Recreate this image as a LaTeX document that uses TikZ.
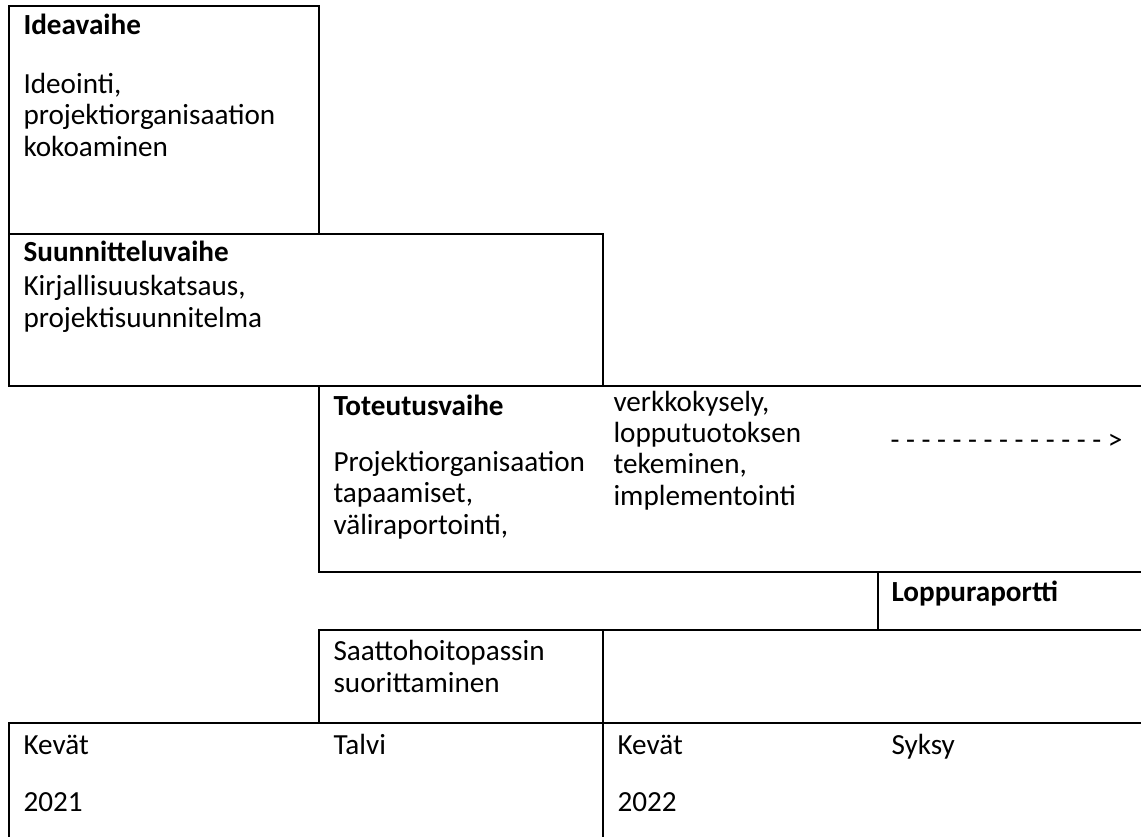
\documentclass[tikz,border=0pt]{standalone}
\usepackage{fontspec}
\setmainfont{Carlito}
\newcommand\tightlines{\lineskiplimit=-100pt\relax}
\tikzset{
  txt/.style={anchor=base west, align=left, inner sep=0pt,
    font=\fontsize{11}{11.7}\selectfont\tightlines},
  hd/.style={txt, font=\fontsize{11}{11.7}\selectfont\tightlines\bfseries},
  rule/.style={line width=0.9pt}
}
\begin{document}
\begin{tikzpicture}[x=0.377pt, y=-0.377pt]
\useasboundingbox (0,0) rectangle (1141,837);
\draw[rule] (9,6) rectangle (319,234);
\draw[rule] (9,234) rectangle (603,386);
\draw[rule] (1141,386) -- (319,386) -- (319,572) -- (1141,572);
\draw[rule] (878,572) -- (878,630);
\draw[rule] (1141,630) -- (319,630) -- (319,723);
\draw[rule] (9,837) -- (9,723) -- (1141,723);
\draw[rule] (603,630) -- (603,837);

% multi-line cells sit on the baseline of their last line
\node[hd] (ideaHead) at (23,34) {Ideavaihe};
\node[txt] (ideaBody) at (23,156) {Ideointi,\\projektiorganisaation\\kokoaminen};
\node[hd] (suunHead) at (23,261) {Suunnitteluvaihe};
\node[txt] (suunBody) at (23,327) {Kirjallisuuskatsaus,\\projektisuunnitelma};
\node[hd] (toteHead) at (333,415) {Toteutusvaihe};
\node[txt] (toteBody) at (333,534) {Projektiorganisaation\\tapaamiset,\\väliraportointi,};
\node[txt] (toteMore) at (613,505) {verkkokysely,\\lopputuotoksen\\tekeminen,\\implementointi};
\node[txt] (toteArrow) at (890,449) {- - - - - - - - - - - - - - >};
\node[hd] (loppu) at (891,601) {Loppuraportti};
\node[txt] (saatto) at (333,692) {Saattohoitopassin\\suorittaminen};
\node[txt] (kevatA) at (23,754) {Kevät};
\node[txt] (talvi) at (333,754) {Talvi};
\node[txt] (kevatB) at (617,754) {Kevät};
\node[txt] (syksy) at (891,754) {Syksy};
\node[txt] (vuosiA) at (23,811) {2021};
\node[txt] (vuosiB) at (617,811) {2022};
\end{tikzpicture}
\end{document}
